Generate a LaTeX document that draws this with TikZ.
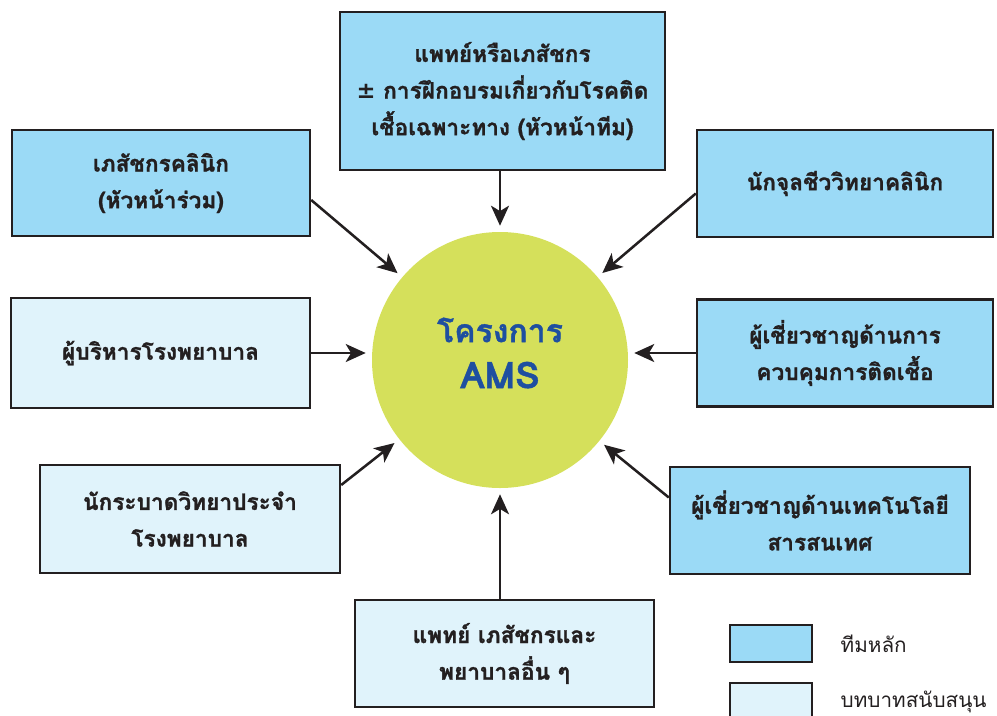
\documentclass[tikz,border=0pt]{standalone}
\usepackage{fontspec}
\usetikzlibrary{arrows.meta,calc}
\newfontfamily\thai[Script=Thai, BoldFeatures={FakeBold=1.2}]{Loma}
\newfontfamily\symb{DejaVu Sans}
\definecolor{mainfill}{HTML}{9BDAF6}
\definecolor{supportfill}{HTML}{E0F3FB}
\definecolor{hubfill}{HTML}{D5E05B}
\definecolor{hubtext}{HTML}{1E4FA0}
\definecolor{ink}{HTML}{231F20}
\tikzset{
  rolebox/.style={draw=ink, line width=1.8pt, align=center, inner sep=0pt,
    font=\thai\bfseries\fontsize{17}{27.5}\selectfont, text=ink},
  mainrole/.style={rolebox, fill=mainfill},
  supportrole/.style={rolebox, fill=supportfill},
  link/.style={draw=ink, line width=1.9pt,
    -{Stealth[length=15pt, width=13.5pt, inset=4pt]}, shorten >=4.5pt},
  keybox/.style={draw=ink, line width=1.8pt, minimum width=61.5pt, minimum height=27.75pt},
  keytext/.style={anchor=west, font=\thai\fontsize{15.5}{18}\selectfont, text=ink}
}
\begin{document}
\begin{tikzpicture}[x=0.75pt, y=-0.75pt]
\useasboundingbox (0,0) rectangle (997,715);

% central programme
\node[circle, fill=hubfill, minimum size=192pt, inner sep=0pt] (ams) at (500,360) {};
\node[align=center, text=hubtext, font=\thai\bfseries\fontsize{24}{34.5}\selectfont]
  (amstext) at (500,353) {โครงการ\\{\fontsize{27.5}{34.5}\selectfont AMS}};

% core team
\node[mainrole, minimum width=243.75pt, minimum height=118.5pt] (top) at (502.5,91)
  {แพทย์หรือเภสัชกร\\{\symb\bfseries ±} การฝึกอบรมเกี่ยวกับโรคติด\\เชื้อเฉพาะทาง (หัวหน้าทีม)};
\node[mainrole, minimum width=223.5pt, minimum height=79.5pt] (tl) at (161,183)
  {เภสัชกรคลินิก\\(หัวหน้าร่วม)};
\node[mainrole, minimum width=222pt, minimum height=80.25pt] (tr) at (845,183.5)
  {นักจุลชีววิทยาคลินิก};
\node[mainrole, minimum width=222pt, minimum height=80.25pt] (mr) at (845,353)
  {ผู้เชี่ยวชาญด้านการ\\ควบคุมการติดเชื้อ};
\node[mainrole, minimum width=225pt, minimum height=80.25pt] (lr) at (820,520.5)
  {ผู้เชี่ยวชาญด้านเทคโนโลยี\\สารสนเทศ};

% supporting roles
\node[supportrole, minimum width=224.25pt, minimum height=82.5pt] (ml) at (160.5,353)
  {ผู้บริหารโรงพยาบาล};
\node[supportrole, minimum width=225pt, minimum height=81pt] (ll) at (190,519)
  {นักระบาดวิทยาประจำ\\โรงพยาบาล};
\node[supportrole, minimum width=224.25pt, minimum height=80.25pt] (bot) at (504.5,653.5)
  {แพทย์ เภสัชกรและ\\พยาบาลอื่น ๆ};

% connector start points on the box edges
\coordinate (sTL) at ($(tl.east)+(0,17)$);
\coordinate (sTR) at ($(tr.west)+(0,10)$);
\coordinate (sLL) at ($(ll.east)+(0,-34)$);
\coordinate (sLR) at ($(lr.west)+(0,-23)$);

\draw[link] (top.south -| ams) -- (ams);
\draw[link] (bot.north -| ams) -- (ams);
\draw[link] (ml.east) -- (ml.east -| ams.west);
\draw[link] (mr.west) -- (mr.west -| ams.east);
\draw[link] (sTL) -- (ams);
\draw[link] (sTR) -- (ams);
\draw[link] (sLL) -- (ams);
\draw[link] (sLR) -- (ams);

% key
\node[keybox, fill=mainfill] (keymain) at (771,643.5) {};
\node[keybox, fill=supportfill] (keysupport) at (771,701.5) {};
\node[keytext] (keymaintext) at (836,643.5) {ทีมหลัก};
\node[keytext] (keysupporttext) at (836,701.5) {บทบาทสนับสนุน};
\end{tikzpicture}
\end{document}
